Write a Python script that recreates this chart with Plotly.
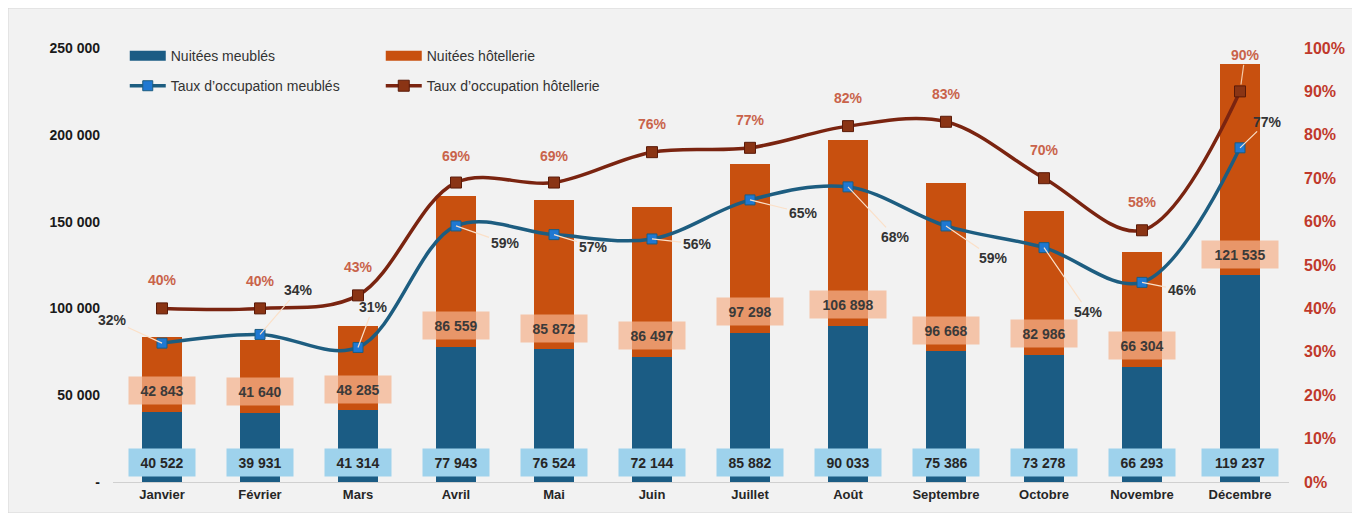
import plotly.graph_objects as go

months = ["Janvier", "Février", "Mars", "Avril", "Mai", "Juin", "Juillet", "Août",
          "Septembre", "Octobre", "Novembre", "Décembre"]
nuitees_meubles = [40522, 39931, 41314, 77943, 76524, 72144, 85882, 90033, 75386, 73278, 66293, 119237]
nuitees_hotel = [42843, 41640, 48285, 86559, 85872, 86497, 97298, 106898, 96668, 82986, 66304, 121535]
taux_meubles = [0.32, 0.34, 0.31, 0.59, 0.57, 0.56, 0.65, 0.68, 0.59, 0.54, 0.46, 0.77]
taux_hotel = [0.40, 0.40, 0.43, 0.69, 0.69, 0.76, 0.77, 0.82, 0.83, 0.70, 0.58, 0.90]
left_ticks = [0, 50000, 100000, 150000, 200000, 250000]
left_ticktext = ["-", "50 000", "100 000", "150 000", "200 000", "250 000"]
right_ticks = [0, 0.1, 0.2, 0.3, 0.4, 0.5, 0.6, 0.7, 0.8, 0.9, 1.0]
# label offsets (pixels) for meublés occupancy labels
lbl_dx = [-50, 38, 15, 49, 39, 45, 53, 47, 47, 44, 40, 27]
lbl_dy = [-23, -44, -40, 17, 12, 5, 13, 50, 32, 64, 8, -26]
# label offsets (pixels) for hôtellerie occupancy labels
hot_dx = [0, 0, 0, 0, 0, 0, 0, 0, 0, 0, 0, 5]
hot_dy = [-28, -27, -28, -27, -27, -28, -28, -28, -28, -28, -28, -36]
hot_leader = [False] * 11 + [True]

BLUE = "#1b5c84"
ORANGE = "#c8500f"
FONT = "Liberation Sans"

def fmt(v):
    return f"{v:,}".replace(",", " ")

fig = go.Figure()
fig.add_trace(go.Bar(x=months, y=nuitees_meubles, name="Nuitées meublés", showlegend=False,
                     marker=dict(color=BLUE, line=dict(width=0))))
fig.add_trace(go.Bar(x=months, y=nuitees_hotel, name="Nuitées hôtellerie", showlegend=False,
                     marker=dict(color=ORANGE, line=dict(width=0))))
# legend swatches for the bars (wide rectangles like the original)
fig.add_trace(go.Scatter(x=[None], y=[None], mode="lines", name="Nuitées meublés",
                         line=dict(color=BLUE, width=10), legend="legend"))
fig.add_trace(go.Scatter(x=[None], y=[None], mode="lines", name="Nuitées hôtellerie",
                         line=dict(color=ORANGE, width=10), legend="legend"))
fig.add_trace(go.Scatter(x=months, y=taux_meubles, name="Taux d’occupation meublés", yaxis="y2",
                         mode="lines+markers", line=dict(color="#1d5d80", width=3.5, shape="spline"),
                         marker=dict(symbol="square", size=10, color="#1f78d2",
                                     line=dict(color="#1d5d80", width=1)),
                         legend="legend2"))
fig.add_trace(go.Scatter(x=months, y=taux_hotel, name="Taux d’occupation hôtellerie", yaxis="y2",
                         mode="lines+markers", line=dict(color="#7a2410", width=3.5, shape="spline"),
                         marker=dict(symbol="square", size=11, color="#8a3414",
                                     line=dict(color="#5a1a08", width=1)),
                         legend="legend2"))

ann = []
for i, m in enumerate(months):
    wm = 60 if nuitees_meubles[i] < 100000 else 70
    ann.append(dict(x=m, y=0, xref="x", yref="y", text=fmt(nuitees_meubles[i]), showarrow=False,
                    yanchor="middle", yshift=20, bgcolor="#9ed2ec", borderpad=3, width=wm, height=21,
                    font=dict(family=FONT, size=14, color="#262626", weight="bold")))
    wh = 60 if nuitees_hotel[i] < 100000 else 70
    ann.append(dict(x=m, y=nuitees_meubles[i], xref="x", yref="y", text=fmt(nuitees_hotel[i]),
                    showarrow=False, yanchor="middle", yshift=21,
                    bgcolor="rgba(244,178,140,0.72)", borderpad=3, width=wh, height=21,
                    font=dict(family=FONT, size=14, color="#3a3a3a", weight="bold")))
    hot_font = dict(family=FONT, size=14, color="#c9634a", weight="bold")
    if hot_leader[i]:
        ann.append(dict(x=m, y=taux_hotel[i], xref="x", yref="y2", text=f"{round(taux_hotel[i]*100)}%",
                        showarrow=True, arrowhead=0, arrowwidth=1.2, arrowcolor="#f3c9a8",
                        ax=hot_dx[i], ay=hot_dy[i], standoff=7, font=hot_font))
    else:
        ann.append(dict(x=m, y=taux_hotel[i], xref="x", yref="y2", text=f"{round(taux_hotel[i]*100)}%",
                        showarrow=False, yanchor="middle", xshift=hot_dx[i], yshift=-hot_dy[i],
                        font=hot_font))
    ann.append(dict(x=m, y=taux_meubles[i], xref="x", yref="y2", text=f"{round(taux_meubles[i]*100)}%",
                    showarrow=True, arrowhead=0, arrowwidth=1.2, arrowcolor="#fbe0c8",
                    ax=lbl_dx[i], ay=lbl_dy[i], standoff=0,
                    font=dict(family=FONT, size=14, color="#333333", weight="bold")))

W, H = 1352, 505
L, R, T, B = 105, 71, 40, 31
pw, ph = W - L - R, H - T - B
shapes = [dict(type="rect", xref="paper", yref="paper",
               x0=-L / pw, x1=(pw + R) / pw, y0=-B / ph, y1=(ph + T) / ph,
               line=dict(color="#d6d6d6", width=1), fillcolor="rgba(0,0,0,0)", layer="below")]

fig.update_layout(
    width=W, height=H,
    margin=dict(l=L, r=R, t=T, b=B, autoexpand=False),
    paper_bgcolor="#f2f2f2", plot_bgcolor="#f2f2f2",
    barmode="stack", bargap=0.6,
    font=dict(family=FONT, color="#262626"),
    xaxis=dict(showgrid=False, showline=True, linecolor="#d0d0d0", linewidth=1, ticks="",
               range=[-0.5, len(months) - 0.5], automargin=False,
               tickfont=dict(size=13, weight="bold", color="#262626")),
    yaxis=dict(range=[0, 250000], tickvals=left_ticks, ticktext=left_ticktext, showgrid=False,
               zeroline=False, showline=False, ticklabelstandoff=12, automargin=False,
               tickfont=dict(size=14, weight="bold", color="#1a1a1a")),
    yaxis2=dict(range=[0, 1.0], tickvals=right_ticks, tickformat=".0%", overlaying="y", side="right",
                showgrid=False, zeroline=False, showline=False, ticklabelstandoff=14, automargin=False,
                tickfont=dict(size=16, weight="bold", color="#c0392b")),
    legend=dict(orientation="h", x=0.01, y=1.018, xanchor="left", yanchor="top",
                entrywidth=205, entrywidthmode="pixels", bgcolor="rgba(0,0,0,0)", itemwidth=36,
                font=dict(size=14, color="#333333"), traceorder="normal"),
    legend2=dict(orientation="h", x=0.01, y=0.949, xanchor="left", yanchor="top",
                 entrywidth=205, entrywidthmode="pixels", bgcolor="rgba(0,0,0,0)", itemwidth=36,
                 font=dict(size=14, color="#333333"), traceorder="normal"),
    annotations=ann,
    shapes=shapes,
)

fig.write_html("out.html")
